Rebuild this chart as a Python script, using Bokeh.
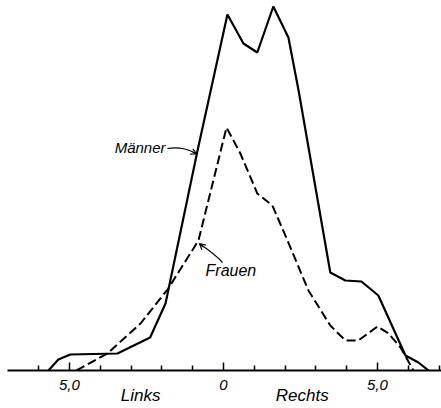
from bokeh.plotting import figure
from bokeh.models import Range1d, LinearAxis, FixedTicker, Label, Arrow, OpenHead
from bokeh.embed import file_html
from bokeh.resources import INLINE

# Männer (solid) distribution
maenner_x = [-5.68, -5.36, -4.97, -3.44, -2.38, -1.88, -0.84, 0.13, 0.65, 1.10,
             1.62, 2.11, 2.44, 3.47, 3.96, 4.48, 5.03, 5.91, 6.33, 6.66]
maenner_y = [0, 0.44, 0.64, 0.68, 1.32, 2.68, 8.8, 14.24, 13.08, 12.72,
             14.56, 13.32, 11.2, 3.92, 3.6, 3.56, 3.0, 0.6, 0.32, 0]

# Frauen (dashed) distribution
frauen_x = [-4.77, -3.77, -2.69, -1.79, -0.81, 0.10, 0.55, 1.10, 1.59, 2.08,
            2.76, 3.47, 3.96, 4.38, 5.0, 5.36, 5.75, 6.17]
frauen_y = [0, 0.68, 1.88, 3.28, 5.2, 9.72, 8.68, 7.08, 6.6, 5.2,
            3.2, 1.8, 1.2, 1.2, 1.76, 1.48, 0.92, 0]

major_ticks = [-5, 0, 5]
minor_ticks = [-6, -4, -3, -2, -1, 1, 2, 3, 4, 6, 7]
tick_labels = {-5: "5,0", 0: "0", 5: "5,0"}
side_ticks = [-2.69, 2.56]
side_labels = {-2.69: "Links", 2.56: "Rechts"}

FONT = "Liberation Sans"

p = figure(width=441, height=408, output_backend="svg", toolbar_location=None,
           x_range=Range1d(-7.01, 7.08), y_range=Range1d(0, 14.8),
           x_axis_location=None, y_axis_location=None,
           min_border_left=7, min_border_right=0, min_border_top=0,
           min_border_bottom=38)
p.outline_line_color = None
p.xgrid.grid_line_color = None
p.ygrid.grid_line_color = None
p.background_fill_color = "white"
p.border_fill_color = "white"

axis = LinearAxis(ticker=FixedTicker(ticks=major_ticks, minor_ticks=minor_ticks))
axis.major_label_overrides = tick_labels
axis.axis_line_width = 2.2
axis.axis_line_color = "black"
axis.major_tick_in = 8
axis.major_tick_out = 0
axis.minor_tick_in = 5
axis.minor_tick_out = 0
axis.major_tick_line_width = 1.5
axis.minor_tick_line_width = 1.5
axis.major_label_standoff = 9
axis.major_label_text_font = FONT
axis.major_label_text_font_style = "italic"
axis.major_label_text_font_size = "15px"
axis.major_label_text_color = "black"
p.add_layout(axis, "below")

axis2 = LinearAxis(ticker=FixedTicker(ticks=side_ticks, minor_ticks=[]))
axis2.major_label_overrides = side_labels
axis2.axis_line_color = None
axis2.major_tick_line_color = None
axis2.minor_tick_line_color = None
axis2.major_tick_in = 0
axis2.major_tick_out = 0
axis2.minor_tick_in = 0
axis2.minor_tick_out = 0
axis2.major_label_standoff = -7
axis2.major_label_text_font = FONT
axis2.major_label_text_font_style = "italic"
axis2.major_label_text_font_size = "17px"
axis2.major_label_text_color = "black"
p.add_layout(axis2, "below")

p.line(maenner_x, maenner_y, line_color="black", line_width=2.2)
p.line(frauen_x, frauen_y, line_color="black", line_width=2, line_dash="9 4")

# Annotations
p.bezier(x0=[-1.82], y0=[8.88], x1=[-0.88], y1=[8.68],
         cx0=[-1.40], cy0=[8.96], cx1=[-1.14], cy1=[8.84],
         line_color="black", line_width=1.2)
p.add_layout(Arrow(x_start=-1.0, y_start=8.74, x_end=-0.86, y_end=8.66,
                   end=OpenHead(size=6, line_width=1.2), line_width=1.2))
p.bezier(x0=[-0.03], y0=[4.32], x1=[-0.75], y1=[5.04],
         cx0=[-0.23], cy0=[4.6], cx1=[-0.55], cy1=[4.88],
         line_color="black", line_width=1.2)
p.add_layout(Arrow(x_start=-0.65, y_start=4.94, x_end=-0.78, y_end=5.08,
                   end=OpenHead(size=6, line_width=1.2), line_width=1.2))

for txt, x, y, align, size in [("Männer", -1.88, 8.92, "right", "15px"),
                               ("Frauen", -0.58, 4.0, "left", "16px")]:
    p.add_layout(Label(x=x, y=y, text=txt, text_align=align, text_baseline="middle",
                       text_font=FONT, text_font_style="italic",
                       text_font_size=size, text_color="black"))

open("out.html", "w").write(file_html(p, INLINE))
